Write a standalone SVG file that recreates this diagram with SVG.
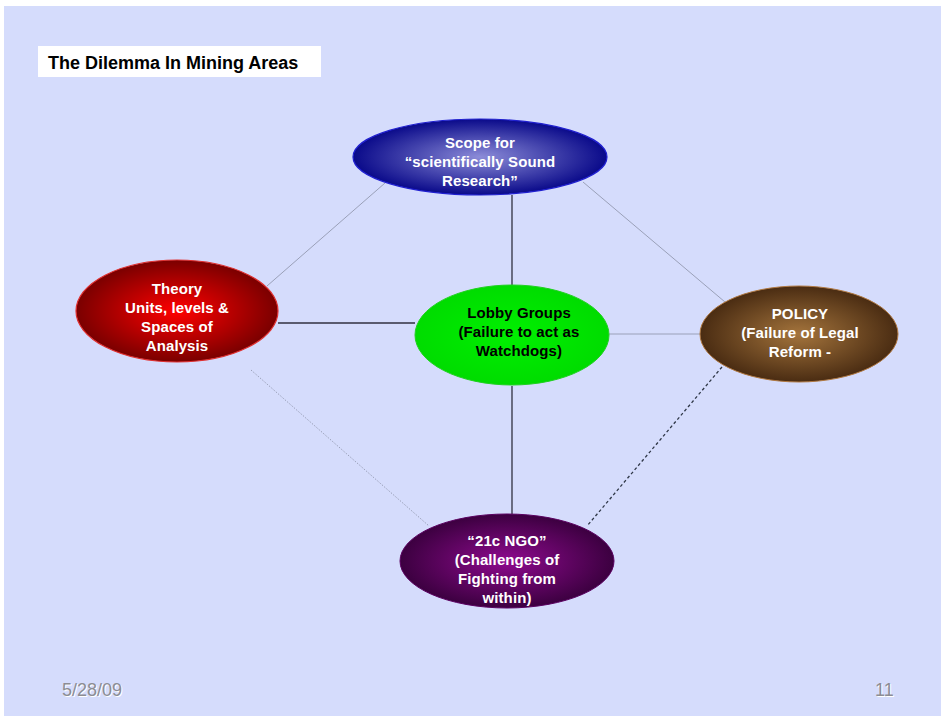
<svg xmlns="http://www.w3.org/2000/svg" width="941" height="716" viewBox="0 0 941 716">
  <style>
    .lbl { font-family: "Liberation Sans", Arial, sans-serif; font-weight: bold; font-size: 15px; text-anchor: middle; letter-spacing: 0.1px; }
    .w { fill: #ffffff; }
    .k { fill: #000000; }
    .thin { stroke: #9aa0b8; stroke-width: 1; fill: none; }
    .solid { stroke: #303040; stroke-width: 1.3; fill: none; }
    .foot { font-family: "Liberation Sans", Arial, sans-serif; font-size: 18px; }
    .footShadow { fill: #ffffff; }
    .footText { fill: #8c8c94; }
  </style>
  <defs>
    <radialGradient id="gBlue" cx="50%" cy="50%" r="50%">
      <stop offset="0" stop-color="#8c8cd8"/>
      <stop offset="1" stop-color="#0a0a8a"/>
    </radialGradient>
    <radialGradient id="gRed" cx="50%" cy="50%" r="50%">
      <stop offset="0" stop-color="#ff0000"/>
      <stop offset="1" stop-color="#7a0000"/>
    </radialGradient>
    <radialGradient id="gGreen" cx="50%" cy="50%" r="50%">
      <stop offset="0" stop-color="#00f000"/>
      <stop offset="1" stop-color="#00dc00"/>
    </radialGradient>
    <radialGradient id="gBrown" cx="50%" cy="50%" r="50%">
      <stop offset="0" stop-color="#a4743c"/>
      <stop offset="1" stop-color="#4a2c12"/>
    </radialGradient>
    <radialGradient id="gPurple" cx="50%" cy="50%" r="50%">
      <stop offset="0" stop-color="#8e0a8e"/>
      <stop offset="1" stop-color="#3c0040"/>
    </radialGradient>
  </defs>

  <rect x="0" y="0" width="941" height="716" fill="#ffffff"/>
  <rect x="4" y="6" width="937" height="710" fill="#d5dcfc"/>

  <g id="title">
    <rect x="38" y="46" width="283" height="31" fill="#ffffff"/>
    <text x="48" y="69" style="font-family:'Liberation Sans',Arial,sans-serif;font-weight:bold;font-size:18px" fill="#000000">The Dilemma In Mining Areas</text>
  </g>

  <g id="connectors">
    <line class="thin" x1="385" y1="183" x2="267" y2="286"/>
    <line class="thin" x1="583" y1="182" x2="725" y2="302"/>
    <line class="thin" x1="609" y1="334" x2="700" y2="334"/>
    <line class="solid" x1="512" y1="195" x2="512" y2="285"/>
    <line class="solid" x1="278" y1="323" x2="415" y2="323"/>
    <line class="solid" x1="512" y1="386" x2="512" y2="514"/>
    <line class="thin" x1="251" y1="370" x2="429" y2="526" stroke-dasharray="1.5 1.5"/>
    <line x1="722" y1="367" x2="587" y2="526" stroke="#303848" stroke-width="1.3" stroke-dasharray="3 2.5"/>
  </g>

  <g id="scope">
    <ellipse cx="480" cy="157" rx="127" ry="38" fill="url(#gBlue)" stroke="#2020d0" stroke-width="1.2"/>
    <text class="lbl w" x="480" y="148">Scope for</text>
    <text class="lbl w" x="480" y="167">“scientifically Sound</text>
    <text class="lbl w" x="480" y="186">Research”</text>
  </g>

  <g id="theory">
    <ellipse cx="177" cy="311" rx="101" ry="51" fill="url(#gRed)" stroke="#e03030" stroke-width="1.2"/>
    <text class="lbl w" x="177" y="294">Theory</text>
    <text class="lbl w" x="177" y="313">Units, levels &amp;</text>
    <text class="lbl w" x="177" y="332">Spaces of</text>
    <text class="lbl w" x="177" y="351">Analysis</text>
  </g>

  <g id="lobby">
    <ellipse cx="512" cy="335" rx="97" ry="50" fill="url(#gGreen)" stroke="#20d020" stroke-width="1"/>
    <text class="lbl k" x="519" y="318">Lobby Groups</text>
    <text class="lbl k" x="519" y="337">(Failure to act as</text>
    <text class="lbl k" x="519" y="356">Watchdogs)</text>
  </g>

  <g id="policy">
    <ellipse cx="799" cy="334" rx="99" ry="48" fill="url(#gBrown)" stroke="#b07840" stroke-width="1"/>
    <text class="lbl w" x="800" y="319">POLICY</text>
    <text class="lbl w" x="800" y="338">(Failure of Legal</text>
    <text class="lbl w" x="800" y="357">Reform -</text>
  </g>

  <g id="ngo">
    <ellipse cx="507" cy="561" rx="107" ry="47" fill="url(#gPurple)" stroke="#5a0060" stroke-width="1"/>
    <text class="lbl w" x="507" y="546">“21c NGO”</text>
    <text class="lbl w" x="507" y="565">(Challenges of</text>
    <text class="lbl w" x="507" y="584">Fighting from</text>
    <text class="lbl w" x="507" y="603">within)</text>
  </g>

  <g id="footer">
    <text class="foot footShadow" x="63" y="697">5/28/09</text>
    <text class="foot footText" x="62" y="696">5/28/09</text>
    <text class="foot footShadow" x="876" y="697">11</text>
    <text class="foot footText" x="875" y="696">11</text>
  </g>
</svg>
